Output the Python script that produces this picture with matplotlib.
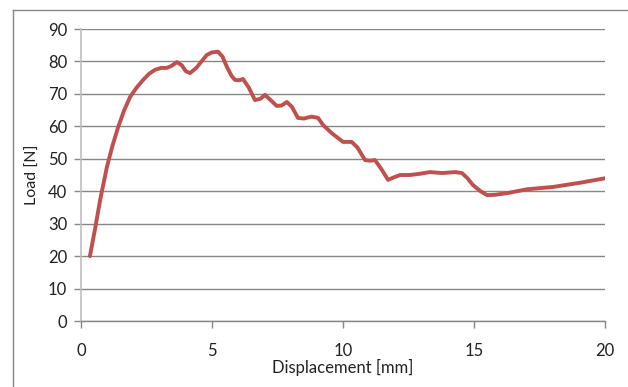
import matplotlib
matplotlib.use("Agg")
import matplotlib.pyplot as plt
from matplotlib.lines import Line2D

displacement = [0.34, 0.55, 0.73, 0.99, 1.2, 1.42, 1.65, 1.87, 2.1, 2.37, 2.6, 2.82, 3.05, 3.27, 3.45,
                3.66, 3.85, 4.0, 4.16, 4.4, 4.6, 4.8, 5.0, 5.23, 5.4, 5.57, 5.75, 5.88, 6.05, 6.18,
                6.4, 6.64, 6.85, 7.02, 7.25, 7.47, 7.65, 7.86, 8.05, 8.28, 8.5, 8.8, 9.05, 9.24,
                9.57, 10.0, 10.33, 10.55, 10.84, 11.05, 11.22, 11.45, 11.72, 11.95, 12.18, 12.56,
                12.95, 13.32, 13.78, 14.27, 14.54, 14.75, 14.96, 15.25, 15.5, 15.8, 16.26, 17.02,
                18.0, 19.04, 20.0]
load = [20.0, 29.0, 37.3, 47.5, 54.0, 59.8, 65.0, 69.0, 71.7, 74.3, 76.2, 77.4, 78.0, 78.0, 78.6,
        79.8, 78.8, 77.0, 76.4, 78.0, 80.0, 82.0, 82.8, 83.0, 81.5, 78.3, 75.5, 74.3, 74.2, 74.6,
        72.0, 68.1, 68.5, 69.7, 68.0, 66.3, 66.4, 67.5, 66.0, 62.6, 62.4, 63.0, 62.6, 60.4,
        57.9, 55.2, 55.2, 53.5, 49.6, 49.4, 49.6, 47.0, 43.5, 44.3, 45.0, 45.0,
        45.4, 45.9, 45.6, 45.9, 45.6, 44.0, 41.9, 40.0, 38.8, 38.9, 39.4, 40.6,
        41.3, 42.6, 44.0]

x_ticks = [0, 5, 10, 15, 20]
y_ticks = [0, 10, 20, 30, 40, 50, 60, 70, 80, 90]

font = "Lato"
fig = plt.figure(figsize=(6.28, 3.87), dpi=100)
ax = fig.add_axes([81/628, 1-321/387, (605-81)/628, (321-29)/387])

grid_c = "#868686"
ax.plot(displacement, load, color="#C0504D", lw=2.8, solid_capstyle="round", solid_joinstyle="round", zorder=3)

ax.set_xlim(0, 20)
ax.set_ylim(0, 90)
ax.set_xticks(x_ticks)
ax.set_yticks(y_ticks)
ax.yaxis.grid(True, color=grid_c, lw=1.0)
ax.set_axisbelow(True)
for s in ["top", "right"]:
    ax.spines[s].set_visible(False)
ax.spines["left"].set_color("#BFBFBF")
ax.spines["left"].set_linewidth(1.2)
ax.spines["bottom"].set_color(grid_c)
ax.spines["bottom"].set_linewidth(1.0)
ax.tick_params(axis="x", direction="out", length=5, width=1, color=grid_c, pad=11,
               labelsize=12, labelcolor="#222222")
ax.tick_params(axis="y", direction="out", length=5, width=1, color=grid_c, pad=5,
               labelsize=12, labelcolor="#222222")
for lbl in ax.get_xticklabels() + ax.get_yticklabels():
    lbl.set_fontfamily(font)

ax.set_xlabel("Displacement [mm]", fontsize=12, family=font, color="#222222", labelpad=0)
ax.set_ylabel("Load [N]", fontsize=11.5, family=font, color="#222222", labelpad=6)

# chart-area border
fig.add_artist(Line2D([13/628, 13/628], [0, 1-10/387], transform=fig.transFigure, color=grid_c, lw=1))
fig.add_artist(Line2D([13/628, 1], [1-10/387, 1-10/387], transform=fig.transFigure, color=grid_c, lw=1))

fig.savefig("out.png", dpi=100)
